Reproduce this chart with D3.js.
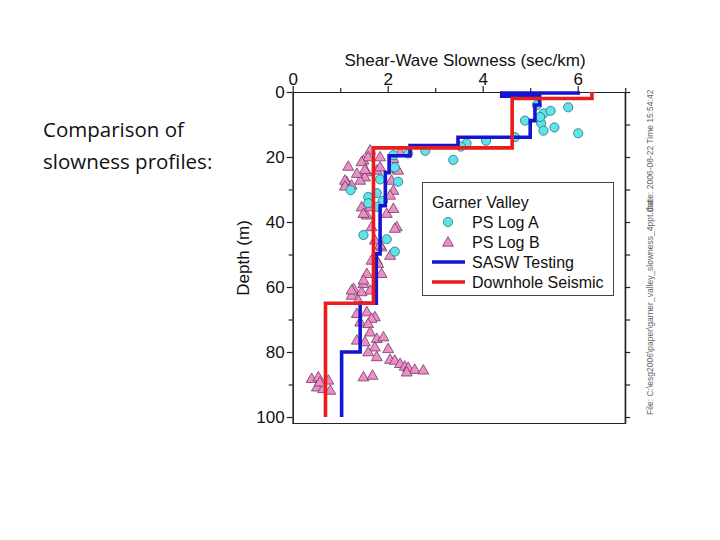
<!DOCTYPE html>
<html>
<head>
<meta charset="utf-8">
<script src="https://cdn.jsdelivr.net/npm/d3@7"></script>
<style>
  body { margin: 0; background: #fff; }
  svg { display: block; }
</style>
</head>
<body>
<div id="chart"></div>
<script>
// PS Log A (cyan circles): [slowness sec/km, depth m]
const psLogA = [
  [5.14, 4.0], [5.28, 6.6], [5.43, 5.8], [5.80, 4.7], [4.89, 8.8], [5.23, 9.6],
  [5.51, 10.9], [5.28, 11.9], [6.01, 12.7], [5.21, 7.7], [4.68, 13.9], [4.07, 15.0],
  [3.66, 15.8], [3.54, 16.8], [3.38, 20.9], [2.79, 18.1], [2.43, 18.9], [2.12, 19.4],
  [1.84, 26.9], [2.22, 27.6], [2.15, 23.2], [1.22, 30.2], [1.59, 32.3], [1.77, 31.1],
  [1.90, 33.5], [1.49, 44.0], [1.98, 45.3], [2.15, 49.1], [1.78, 35.3], [1.59, 34.2]
];

// PS Log B (pink triangles): [slowness sec/km, depth m]
const psLogB = [
  [1.17, 22.8], [1.63, 17.8], [1.49, 20.9], [1.84, 19.9], [2.26, 18.4], [1.56, 24.5],
  [1.77, 24.0], [2.19, 23.5], [1.52, 26.1], [1.42, 27.1], [1.14, 27.6], [1.24, 28.6],
  [2.08, 27.1], [2.12, 30.2], [2.05, 31.7], [1.45, 35.3], [1.56, 37.8], [1.98, 37.3],
  [2.12, 35.8], [2.19, 41.4], [1.66, 41.4], [1.73, 45.5], [1.87, 47.6], [2.05, 50.2],
  [1.77, 51.7], [1.80, 52.7], [1.87, 55.8], [1.56, 55.8], [1.49, 58.9], [1.28, 60.4],
  [1.63, 60.9], [1.24, 62.5], [1.45, 61.4], [1.38, 64.0], [1.35, 68.1], [1.56, 67.6],
  [1.73, 69.1], [1.66, 69.6], [1.42, 70.7], [1.59, 71.2], [1.63, 73.8], [1.35, 76.3],
  [1.52, 76.8], [1.77, 75.8], [1.91, 75.3], [1.73, 78.4], [2.01, 78.9], [1.59, 79.9],
  [1.77, 81.4], [2.05, 82.2], [2.15, 82.5], [2.26, 83.5], [2.36, 84.3], [2.43, 84.7],
  [2.57, 85.3], [2.75, 85.5], [2.40, 86.1], [1.49, 87.6], [1.68, 87.1], [0.40, 88.1],
  [0.54, 87.6], [0.75, 88.6], [0.51, 90.7], [0.64, 91.2], [0.79, 91.7], [0.57, 89.2],
  [1.59, 19.9], [1.45, 21.4], [1.52, 23.8], [1.35, 25.0], [1.10, 27.1], [1.84, 23.0],
  [2.22, 24.0], [2.12, 20.4], [1.10, 28.9], [2.15, 41.9], [1.49, 37.3], [1.63, 35.3],
  [1.84, 47.0], [1.66, 51.7], [1.49, 57.8], [1.24, 60.9]
];

// SASW Testing step profile: [slowness, depth]
const sasw = [
  [6.05, 0.3], [4.4, 0.3], [4.4, 1.3], [5.2, 1.3], [5.2, 4.0], [5.1, 4.0],
  [5.1, 8.8], [5.0, 8.8], [5.0, 13.9], [3.48, 13.9], [3.48, 16.5], [2.47, 16.5],
  [2.47, 19.6], [2.03, 19.6], [2.03, 24.8], [1.95, 24.8], [1.95, 35.0], [1.84, 35.0],
  [1.84, 49.8], [1.76, 49.8], [1.76, 65.0], [1.42, 65.0], [1.42, 80.0], [1.03, 80.0],
  [1.03, 100]
];

// Downhole Seismic step profile: [slowness, depth]
const downhole = [
  [6.3, 0], [6.3, 2.0], [4.62, 2.0], [4.62, 17.2], [1.70, 17.2], [1.70, 65.0],
  [0.69, 65.0], [0.69, 100]
];

const xMajorTicks = [0, 2, 4, 6];
const xMinorTicks = [1, 3, 5, 7];
const yMajorTicks = [0, 20, 40, 60, 80, 100];
const yMinorTicks = [10, 30, 50, 70, 90];
const legendLabels = ['PS Log A', 'PS Log B', 'SASW Testing', 'Downhole Seismic'];

const width = 720, height = 540;
const FONT = '"Liberation Sans", Arial, sans-serif';

const svg = d3.select('#chart').append('svg')
  .attr('width', width)
  .attr('height', height)
  .style('font-family', FONT);

const x = d3.scaleLinear().domain([0, 7]).range([292.7, 625.2]);
const y = d3.scaleLinear().domain([0, 102]).range([92, 423.5]);

// slide text on the left
const note = svg.append('text')
  .attr('font-family', '"Open Sans", "Noto Sans", sans-serif')
  .attr('font-size', 20.5)
  .attr('fill', '#111');
note.append('tspan').attr('x', 43).attr('y', 137).text('Comparison of');
note.append('tspan').attr('x', 43).attr('y', 169).text('slowness profiles:');

// frame: right and bottom edges
svg.append('line')
  .attr('x1', x(7)).attr('x2', x(7)).attr('y1', y(0)).attr('y2', y(102))
  .attr('stroke', '#222').attr('stroke-width', 1.2);
svg.append('line')
  .attr('x1', x(0)).attr('x2', x(7)).attr('y1', y(102)).attr('y2', y(102))
  .attr('stroke', '#222').attr('stroke-width', 1.2);

function styleAxis(g) {
  g.selectAll('path').attr('stroke', '#222').attr('stroke-width', 1.2);
  g.selectAll('line').attr('stroke', '#222').attr('stroke-width', 1.2);
  g.selectAll('text').attr('font-family', FONT).attr('font-size', 17).attr('fill', '#111');
}

const intFmt = d3.format('d');

// top axis
svg.append('g').attr('transform', `translate(0,${y(0)})`)
  .call(d3.axisTop(x).tickValues(xMinorTicks).tickSize(4).tickSizeOuter(0).tickFormat(''))
  .call(styleAxis);
svg.append('g').attr('transform', `translate(0,${y(0)})`)
  .call(d3.axisTop(x).tickValues(xMajorTicks).tickSize(6).tickSizeOuter(0)
    .tickPadding(1).tickFormat(intFmt))
  .call(styleAxis);

// left axis
svg.append('g').attr('transform', `translate(${x(0)},0)`)
  .call(d3.axisLeft(y).tickValues(yMinorTicks).tickSize(4).tickSizeOuter(0).tickFormat(''))
  .call(styleAxis);
svg.append('g').attr('transform', `translate(${x(0)},0)`)
  .call(d3.axisLeft(y).tickValues(yMajorTicks).tickSize(6).tickSizeOuter(0)
    .tickPadding(2).tickFormat(intFmt))
  .call(styleAxis);

// right axis ticks
svg.append('g').attr('transform', `translate(${x(7)},0)`)
  .call(d3.axisRight(y).tickValues(yMajorTicks.concat(yMinorTicks)).tickSize(5).tickSizeOuter(0).tickFormat(''))
  .call(styleAxis);

// axis titles
svg.append('text')
  .attr('x', 465).attr('y', 66)
  .attr('text-anchor', 'middle')
  .attr('font-size', 17)
  .attr('fill', '#111')
  .text('Shear-Wave Slowness (sec/km)');
svg.append('text')
  .attr('transform', 'translate(249,258) rotate(-90)')
  .attr('text-anchor', 'middle')
  .attr('font-size', 17)
  .attr('fill', '#111')
  .text('Depth (m)');

// markers
const triPath = d3.symbol().type(d3.symbolTriangle).size(52)();
const circleFill = '#5fe3ea', circleStroke = '#2a6f7c';
const triFill = '#ec8fc6', triStroke = '#6e3a62';

svg.append('g').selectAll('path')
  .data(psLogB)
  .join('path')
  .attr('d', triPath)
  .attr('transform', d => `translate(${x(d[0])},${y(d[1]) + 1})`)
  .attr('fill', triFill)
  .attr('stroke', triStroke)
  .attr('stroke-width', 0.8);

svg.append('g').selectAll('circle')
  .data(psLogA)
  .join('circle')
  .attr('cx', d => x(d[0]))
  .attr('cy', d => y(d[1]))
  .attr('r', 4.6)
  .attr('fill', circleFill)
  .attr('stroke', circleStroke)
  .attr('stroke-width', 0.8);

// step profiles
const line = d3.line().x(d => x(d[0])).y(d => y(d[1]));
svg.append('path')
  .attr('d', line(sasw))
  .attr('fill', 'none')
  .attr('stroke', '#1414d2')
  .attr('stroke-width', 3.6);
svg.append('path')
  .attr('d', line(downhole))
  .attr('fill', 'none')
  .attr('stroke', '#ea1c1c')
  .attr('stroke-width', 3.6);

// legend
const lg = svg.append('g');
lg.append('rect')
  .attr('x', 422.5).attr('y', 182.5).attr('width', 191).attr('height', 113)
  .attr('fill', '#fff').attr('stroke', '#444').attr('stroke-width', 1);
lg.append('text')
  .attr('x', 432).attr('y', 208)
  .attr('font-size', 16).attr('fill', '#111')
  .text('Garner Valley');

legendLabels.forEach((label, i) => {
  const cy = 222 + i * 20;
  if (i === 0) {
    lg.append('circle').attr('cx', 448).attr('cy', cy).attr('r', 4.6)
      .attr('fill', circleFill).attr('stroke', circleStroke).attr('stroke-width', 0.8);
  } else if (i === 1) {
    lg.append('path').attr('d', triPath).attr('transform', `translate(448,${cy + 1})`)
      .attr('fill', triFill).attr('stroke', triStroke).attr('stroke-width', 0.8);
  } else {
    lg.append('line').attr('x1', 432).attr('x2', 465).attr('y1', cy).attr('y2', cy)
      .attr('stroke', i === 2 ? '#1414d2' : '#ea1c1c').attr('stroke-width', 3.6);
  }
  lg.append('text')
    .attr('x', 472).attr('y', cy + 6)
    .attr('font-size', 16).attr('fill', '#111')
    .text(label);
});

// file stamp, rotated along the right edge
svg.append('text')
  .attr('transform', 'translate(653,415) rotate(-90)')
  .attr('font-size', 8.5).attr('fill', '#666')
  .text('File: C:\\esg2006\\paper\\garner_valley_slowness_4ppt.dat');
svg.append('text')
  .attr('transform', 'translate(653,212) rotate(-90)')
  .attr('font-size', 8.5).attr('fill', '#666')
  .text('Date: 2006-08-22 Time 15:54:42');
</script>
</body>
</html>
